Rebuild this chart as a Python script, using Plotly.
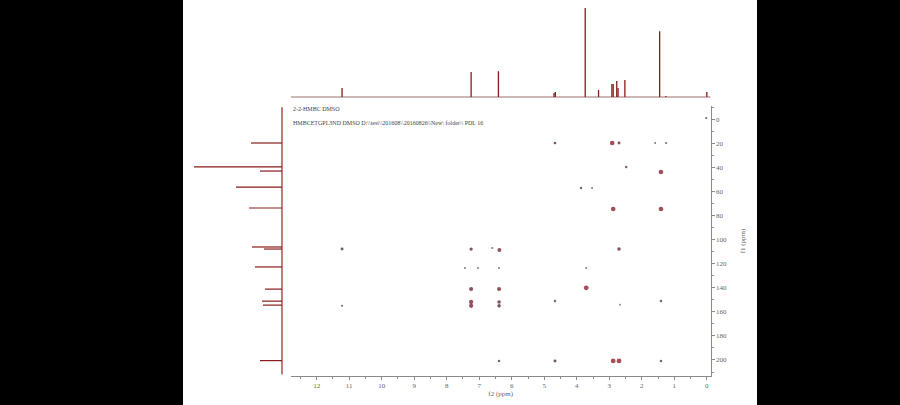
import plotly.graph_objects as go

# ---------------- data ----------------
# 1H projection (f2, ppm) : peak positions and relative heights
h_ppm = [11.22, 7.25, 6.41, 4.70, 4.66, 3.74, 3.33, 2.92, 2.88, 2.77, 2.73, 2.52, 1.45, 1.26, 0.00]
h_int = [10.1, 28.0, 29.0, 4.5, 5.6, 100.0, 7.9, 14.6, 14.6, 18.0, 10.0, 19.0, 74.0, 1.1, 5.6]

# 13C projection (f1, ppm) : peak positions and relative heights
c_ppm = [19.7, 39.6, 43.0, 56.3, 73.7, 106.1, 107.8, 122.7, 141.1, 151.1, 154.4, 200.5]
c_int = [31, 88, 22, 46, 33, 30, 18, 27, 17, 20, 19, 22]

# HMBC cross peaks (f2, f1, intensity 0..1)
cp_f2 = [4.67, 2.91, 2.70, 1.59, 1.25, 2.48, 1.41, 3.87, 3.53, 2.88, 1.41,
         11.22, 11.22, 7.25, 6.60, 6.38, 7.44, 7.04, 6.39, 3.71,
         7.25, 6.39, 3.71, 7.25, 7.25, 6.39, 6.39, 4.67, 1.41, 2.67, 2.70,
         6.39, 4.67, 2.88, 2.70, 1.41, 0.02]
cp_f1 = [19.7, 19.7, 19.7, 19.7, 19.7, 39.6, 43.8, 57.0, 57.0, 74.5, 74.5,
         107.8, 155.0, 107.8, 107.0, 108.6, 123.5, 123.5, 123.5, 123.5,
         141.0, 141.0, 140.0, 151.8, 155.0, 151.8, 155.0, 151.0, 151.0, 154.0, 107.8,
         200.8, 200.8, 200.8, 200.8, 200.8, -1.0]
cp_int = [0.35, 0.9, 0.4, 0.15, 0.2, 0.3, 0.9, 0.3, 0.15, 0.9, 0.9,
          0.4, 0.2, 0.5, 0.15, 0.7, 0.15, 0.15, 0.15, 0.15,
          0.75, 0.75, 0.95, 0.8, 0.8, 0.6, 0.6, 0.3, 0.3, 0.1, 0.6,
          0.3, 0.4, 0.95, 0.95, 0.3, 0.2]

x_ticks = list(range(0, 13))
y_ticks = list(range(0, 201, 20))

title1 = "2-2-HMBC DMSO"
title2 = "HMBCETGPL3ND DMSO D:\\\\test\\\\201608\\\\20160826\\\\New\\ folder\\\\ PDL 16"

# ---------------- geometry helpers ----------------
W, H = 900, 405
def fx(px):
    return px / W
def fy(py):
    return 1 - py / H

PEAK = "#8b1a1a"
BASE = "#9a6f6f"
AX = "#8a8a8a"
FONT = "Liberation Serif"

fig = go.Figure()

# top 1H projection as sticks
sx, sy = [], []
for p, v in zip(h_ppm, h_int):
    sx += [p, p, None]
    sy += [0, v, None]
fig.add_trace(go.Scatter(x=[12.8, -0.12], y=[0, 0], mode="lines",
                         line=dict(color=BASE, width=1), xaxis="x2", yaxis="y2",
                         hoverinfo="skip", showlegend=False))
fig.add_trace(go.Scatter(x=sx, y=sy, mode="lines", line=dict(color=PEAK, width=1.3),
                         xaxis="x2", yaxis="y2", showlegend=False))

# left 13C projection as sticks
lx, ly = [], []
for p, v in zip(c_ppm, c_int):
    lx += [0, v, None]
    ly += [p, p, None]
fig.add_trace(go.Scatter(x=[0, 0], y=[-10, 212], mode="lines",
                         line=dict(color="#a02020", width=1.2), xaxis="x3", yaxis="y3",
                         hoverinfo="skip", showlegend=False))
fig.add_trace(go.Scatter(x=lx, y=ly, mode="lines", line=dict(color=PEAK, width=1.2),
                         xaxis="x3", yaxis="y3", showlegend=False))

# cross peaks
fig.add_trace(go.Scatter(
    x=cp_f2, y=cp_f1, mode="markers",
    marker=dict(size=[1.5 + 3.5 * v for v in cp_int], color=cp_int,
                colorscale=[[0, "#5a5a5a"], [0.4, "#3a1010"], [1, "#8a0014"]],
                cmin=0, cmax=1, line=dict(width=0)),
    xaxis="x", yaxis="y", showlegend=False))

main_x_dom = [fx(290.7), fx(710.7)]
main_y_dom = [fy(376), fy(106)]

fig.update_layout(
    width=W, height=H,
    margin=dict(l=0, r=0, t=0, b=0),
    paper_bgcolor="black",
    plot_bgcolor="rgba(0,0,0,0)",
    showlegend=False,
    font=dict(family=FONT, size=7, color="#555555"),
    xaxis=dict(domain=main_x_dom, range=[12.8, -0.12], anchor="y",
               tickvals=x_ticks, ticks="outside", ticklen=3, tickcolor=AX,
               showline=True, linecolor=AX, linewidth=1, showgrid=False, zeroline=False,
               minor=dict(dtick=0.5, ticks="outside", ticklen=2, tickcolor=AX, showgrid=False),
               tickfont=dict(family=FONT, size=7, color="#666666"),
               title=dict(text="f2 (ppm)", font=dict(family=FONT, size=7, color="#666666"),
                          standoff=0),
               automargin=False),
    yaxis=dict(domain=main_y_dom, range=[213.3, -11.05], anchor="x", side="right",
               tickvals=y_ticks, ticks="outside", ticklen=3, tickcolor=AX,
               showline=True, linecolor=AX, linewidth=1, showgrid=False, zeroline=False,
               minor=dict(dtick=10, ticks="outside", ticklen=2, tickcolor=AX, showgrid=False),
               tickfont=dict(family=FONT, size=7, color="#666666"),
               title=dict(text="f1 (ppm)", font=dict(family=FONT, size=7, color="#666666"),
                          standoff=14),
               automargin=False),
    xaxis2=dict(domain=main_x_dom, range=[12.8, -0.12], anchor="y2", visible=False),
    yaxis2=dict(domain=[fy(99), fy(5)], range=[-2.25, 103.4], anchor="x2", visible=False),
    xaxis3=dict(domain=[fx(185), fx(284)], range=[97, -2], anchor="y3", visible=False),
    yaxis3=dict(domain=main_y_dom, range=[213.3, -11.05], anchor="x3", visible=False),
    shapes=[dict(type="rect", xref="paper", yref="paper", x0=fx(183), x1=fx(757),
                 y0=0, y1=1, fillcolor="white", line=dict(width=0), layer="below")],
    annotations=[
        dict(text=title1, xref="paper", yref="paper", x=fx(291), y=fy(109),
             xanchor="left", yanchor="middle", showarrow=False,
             font=dict(family=FONT, size=6, color="#444444")),
        dict(text=title2, xref="paper", yref="paper", x=fx(291), y=fy(123),
             xanchor="left", yanchor="middle", showarrow=False,
             font=dict(family=FONT, size=6, color="#444444")),
    ],
)

fig.write_html("out.html", config={"displayModeBar": False},
               post_script="document.body.style.margin='0';document.body.style.padding='0';"
                           "document.body.style.overflow='hidden';")
